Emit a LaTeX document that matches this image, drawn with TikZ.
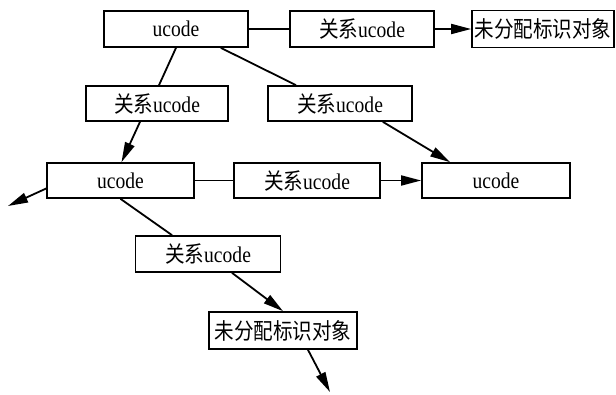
\documentclass[tikz,border=0pt]{standalone}
\usepackage{fontspec}
\setmainfont{Liberation Serif}[FakeStretch=0.87]
\newfontfamily\cjk{Noto Sans CJK SC}[FakeStretch=0.87]
\usetikzlibrary{arrows.meta}
\tikzset{
  box/.style={draw, line width=1.7pt, fill=white, inner sep=0pt, align=center,
    font=\fontsize{22.5}{23}\selectfont},
  link/.style={line width=1.8pt},
  arr/.style={link, -{Triangle[length=20pt,width=10pt]}},
}
\newcommand{\rel}{{\cjk 关系}ucode}
\newcommand{\unk}{{\cjk 未分配标识对象}}
\begin{document}
\begin{tikzpicture}[x=1pt,y=-1pt]
\useasboundingbox (0,0) rectangle (616,394);
% top row
\node[box, minimum width=144pt, minimum height=36pt] (A)  at (176,29) {ucode};
\node[box, minimum width=144pt, minimum height=36pt] (R1) at (362,29) {\rel};
\node[box, minimum width=142pt, minimum height=37pt] (U1) at (543,29) {\unk};
% second row
\node[box, minimum width=142pt, minimum height=35pt] (R2) at (157,103.5) {\rel};
\node[box, minimum width=144pt, minimum height=35pt] (R3) at (340,103.5) {\rel};
% third row
\node[box, minimum width=147pt, minimum height=35pt] (B)  at (120.5,180.5) {ucode};
\node[box, minimum width=146pt, minimum height=35pt] (R4) at (307,180.5) {\rel};
\node[box, minimum width=148pt, minimum height=35pt] (C)  at (496,180.5) {ucode};
% lower branch
\node[box, minimum width=145pt, minimum height=36pt] (R5) at (208,254) {\rel};
\node[box, minimum width=148pt, minimum height=37pt] (U2) at (283,330.5) {\unk};
\coordinate (E1) at (8,206);
\coordinate (E2) at (330,392);
% connectors
\draw[link] (A.east) -- (R1.west);
\draw[arr]  (R1.east) -- (U1.west);
\draw[link] (A.south) -- ([xshift=2pt]R2.north);
\draw[link] ([xshift=-28pt]A.south east) -- ([xshift=-44pt]R3.north);
\draw[arr]  ([xshift=-17pt]R2.south) -- ([xshift=1pt]B.north);
\draw[arr]  ([xshift=-30pt]R3.south east) -- ([xshift=-46pt]C.north);
\draw[link] (B.east) -- (R4.west);
\draw[arr]  (R4.east) -- (C.west);
\draw[arr]  ([yshift=-8pt]B.west) -- (E1);
\draw[link] (B.south) -- ([xshift=-36pt]R5.north);
\draw[arr]  ([xshift=24pt]R5.south) -- (U2.north);
\draw[arr]  ([xshift=25pt]U2.south) -- (E2);
\end{tikzpicture}
\end{document}
